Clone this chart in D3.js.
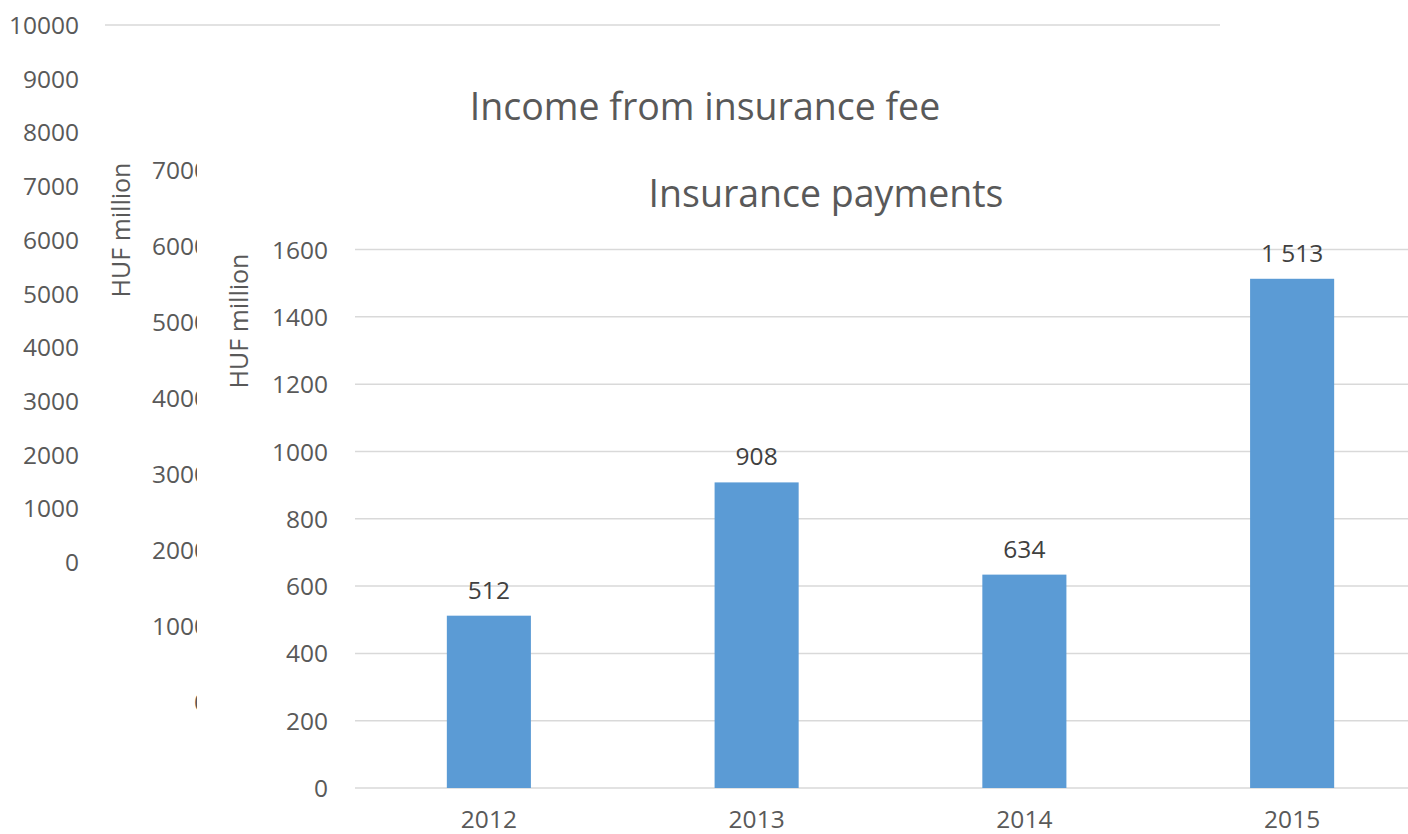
<!DOCTYPE html>
<html>
<head>
<meta charset="utf-8">
<script src="https://cdn.jsdelivr.net/npm/d3@7"></script>
<style>
  html, body { margin: 0; padding: 0; background: #ffffff; }
  svg { display: block; font-family: "Open Sans", "Noto Sans", sans-serif; }
</style>
</head>
<body>
<svg id="chart" width="1408" height="834"></svg>
<script>
// Front chart: insurance payments per year (HUF million)
const years = ["2012", "2013", "2014", "2015"];
const payments = [512, 908, 634, 1513];
const paymentTicks = [0, 200, 400, 600, 800, 1000, 1200, 1400, 1600];

// Axis ticks of the two charts stacked behind it
const incomeTicks = [0, 1000, 2000, 3000, 4000, 5000, 6000, 7000];
const backTicks = [0, 1000, 2000, 3000, 4000, 5000, 6000, 7000, 8000, 9000, 10000];

const titles = { income: "Income from insurance fee", payments: "Insurance payments" };
const unitLabel = "HUF million";

const TEXT = "#595959", GRID = "#d9d9d9", BAR = "#5b9bd5", LABEL = "#404040";
const TICK_SIZE = 24.5;
const fmt = d3.formatLocale({ decimal: ",", thousands: "\u00a0", grouping: [3], currency: ["", ""] }).format(",d");

const svg = d3.select("#chart");

function drawAxis(g, scale, ticks, labelX, gridX0, gridX1) {
  const axis = d3.axisLeft(scale).tickValues(ticks).tickSize(0).tickPadding(0).tickFormat(d => d);
  const ag = g.append("g").attr("transform", `translate(${labelX},0)`).call(axis);
  ag.select(".domain").remove();
  ag.selectAll("text").attr("fill", TEXT).attr("font-size", TICK_SIZE)
    .attr("font-family", "'Open Sans', sans-serif").attr("dy", "0.35em");
  g.append("g").selectAll("line").data(ticks).join("line")
    .attr("x1", gridX0).attr("x2", gridX1)
    .attr("y1", d => scale(d)).attr("y2", d => scale(d))
    .attr("stroke", GRID).attr("stroke-width", 1.5);
}

// ---- Back chart (axis 0–10000) ----
const back = svg.append("g");
const yBack = d3.scaleLinear().domain([0, 10000]).range([562, 25]);
drawAxis(back, yBack, backTicks, 79, 105, 1220);

// ---- Middle chart: income from insurance fee ----
const mid = svg.append("g");
mid.append("rect").attr("x", 100).attr("y", 40).attr("width", 1308).attr("height", 794).attr("fill", "#fff");
const yMid = d3.scaleLinear().domain([0, 7000]).range([702, 170]);
drawAxis(mid, yMid, incomeTicks, 208, 225, 1408);
mid.append("text").attr("x", 705).attr("y", 120).attr("text-anchor", "middle")
  .attr("font-size", 37.5).attr("fill", TEXT).text(titles.income);
mid.append("text").attr("transform", "translate(130,230) rotate(-90)").attr("text-anchor", "middle")
  .attr("font-size", 25).attr("fill", TEXT).text(unitLabel);

// ---- Front chart: insurance payments ----
const front = svg.append("g");
front.append("rect").attr("x", 197).attr("y", 140).attr("width", 1211).attr("height", 694).attr("fill", "#fff");
const y = d3.scaleLinear().domain([0, 1600]).range([788, 249.5]);
const x = d3.scaleBand().domain(years).range([355, 1426]).paddingInner(0.686).paddingOuter(0.343);
drawAxis(front, y, paymentTicks, 328, 355, 1408);

front.append("text").attr("x", 826).attr("y", 207).attr("text-anchor", "middle")
  .attr("font-size", 37.5).attr("fill", TEXT).text(titles.payments);
front.append("text").attr("transform", "translate(248,321) rotate(-90)").attr("text-anchor", "middle")
  .attr("font-size", 25).attr("fill", TEXT).text(unitLabel);

front.append("g").selectAll("rect").data(years).join("rect")
  .attr("x", d => x(d)).attr("width", x.bandwidth())
  .attr("y", (d, i) => y(payments[i])).attr("height", (d, i) => y(0) - y(payments[i]))
  .attr("fill", BAR);

front.append("g").selectAll("text").data(years).join("text")
  .attr("x", d => x(d) + x.bandwidth() / 2)
  .attr("y", (d, i) => y(payments[i]) - 17)
  .attr("text-anchor", "middle").attr("font-size", TICK_SIZE).attr("fill", LABEL)
  .text((d, i) => fmt(payments[i]));

const xAxis = d3.axisBottom(x).tickSize(0).tickPadding(0);
const xg = front.append("g").attr("transform", "translate(0,788)").call(xAxis);
xg.select(".domain").remove();
xg.selectAll("text").attr("fill", TEXT).attr("font-size", TICK_SIZE)
  .attr("font-family", "'Open Sans', sans-serif").attr("dy", 0).attr("y", 40);
</script>
</body>
</html>
